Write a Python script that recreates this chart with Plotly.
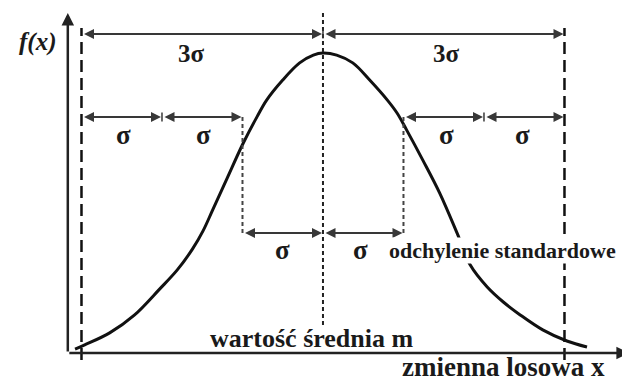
import plotly.graph_objects as go

# krzywa: x w jednostkach sigma (m = 0), f(x) względem maksimum
curve_x = [-3.08, -2.96, -2.65, -2.34, -2.03, -1.81, -1.62, -1.49, -1.37, -1.19, -0.99,
           -0.82, -0.70, -0.50, -0.29, -0.12, 0.0, 0.17, 0.37, 0.58, 0.80, 0.92, 1.04,
           1.24, 1.45, 1.67, 1.83, 2.04, 2.24, 2.45, 2.73, 3.03, 3.28]
curve_y = [0.013, 0.027, 0.067, 0.127, 0.213, 0.277, 0.347, 0.407, 0.477, 0.583, 0.700,
           0.787, 0.843, 0.910, 0.967, 0.993, 1.0, 0.993, 0.967, 0.910, 0.843, 0.800, 0.743,
           0.643, 0.533, 0.397, 0.293, 0.220, 0.170, 0.127, 0.077, 0.040, 0.020]

mean = 0
outer_lim = [-3, 3]
inner_lim = [-1, 1]

arrows_3s = [(-3, 0), (0, 3)]
arrows_1s = [(-3, -2), (-2, -1), (1, 2), (2, 3)]
arrows_in = [(-1, 0), (0, 1)]

labels_3s = [-1.63, 1.54]
labels_1s = [-2.48, -1.49, 1.54, 2.48]
labels_in = [-0.5, 0.46]

y_3s, y_1s, y_in = 1.063, 0.787, 0.40
X_RANGE = [-3.913, 3.814]
Y_RANGE = [-0.0933, 1.15]
y_axis_x = -3.17

ARROW = '#383838'
FONT = 'Liberation Serif, Times New Roman, DejaVu Serif, serif'

fig = go.Figure()
fig.add_trace(go.Scatter(x=curve_x, y=curve_y, mode='lines',
                         line=dict(color='#111111', width=3, shape='spline', smoothing=1.0),
                         hoverinfo='skip'))

shapes = []
# osie
annotations = [
    dict(x=3.80, y=0, ax=y_axis_x, ay=0),
    dict(x=y_axis_x, y=1.133, ax=y_axis_x, ay=0),
]
annotations = [dict(a, xref='x', yref='y', axref='x', ayref='y', text='', showarrow=True,
                    arrowhead=2, arrowsize=1, arrowwidth=2.5, arrowcolor='#222222',
                    standoff=0, startstandoff=0) for a in annotations]

# linie pionowe
for xv in outer_lim:
    shapes.append(dict(type='line', xref='x', yref='y', x0=xv, x1=xv, y0=-0.023, y1=1.083,
                       line=dict(color='#111111', width=2.5, dash='12px,6px')))
shapes.append(dict(type='line', xref='x', yref='y', x0=mean, x1=mean, y0=0.093, y1=1.137,
                   line=dict(color='#222222', width=2, dash='4px,3px')))
for xv in inner_lim:
    shapes.append(dict(type='line', xref='x', yref='y', x0=xv, x1=xv, y0=0.40, y1=0.787,
                       line=dict(color='#444444', width=2, dash='4px,3px')))
# małe znaczniki na końcach strzałek
for xv, yv in [(-2, y_1s), (2, y_1s), (0, y_3s)]:
    shapes.append(dict(type='line', xref='x', yref='y', x0=xv, x1=xv, y0=yv - 0.015, y1=yv + 0.015,
                       line=dict(color=ARROW, width=1.5)))

# strzałki dwustronne
for row, yv in [(arrows_3s, y_3s), (arrows_1s, y_1s), (arrows_in, y_in)]:
    for a, b in row:
        annotations.append(dict(x=b, y=yv, ax=a, ay=yv, xref='x', yref='y', axref='x', ayref='y',
                                text='', showarrow=True, arrowhead=2, startarrowhead=2,
                                arrowside='end+start', arrowsize=1, startarrowsize=1,
                                arrowwidth=2, arrowcolor=ARROW, standoff=1, startstandoff=1))


def label(x, y, text, size, **kw):
    d = dict(x=x, y=y, xref='x', yref='y', text=text, showarrow=False,
             font=dict(family=FONT, size=size, color='#1a1a1a'))
    d.update(kw)
    return d


for xv in labels_3s:
    annotations.append(label(xv, 1.0, '<b>3σ</b>', 25))
for xv in labels_1s:
    annotations.append(label(xv, 0.727, '<b>σ</b>', 27))
for xv in labels_in:
    annotations.append(label(xv, 0.343, '<b>σ</b>', 27))

annotations.append(label(0.81, 0.343, '<b>odchylenie standardowe</b>', 22, xanchor='left',
                         bgcolor='white', borderpad=0))
annotations.append(label(-0.14, 0.047, '<b>wartość średnia m</b>', 26))
annotations.append(label(2.24, 0, '<b>zmienna losowa x</b>', 27, yref='paper',
                         yanchor='bottom', yshift=-3))
annotations.append(label(-3.55, 1.037, '<b><i>f(x)</i></b>', 25))

fig.update_layout(
    width=622, height=373,
    margin=dict(l=0, r=0, t=0, b=0),
    paper_bgcolor='white', plot_bgcolor='white',
    showlegend=False,
    xaxis=dict(range=X_RANGE, visible=False, fixedrange=True),
    yaxis=dict(range=Y_RANGE, visible=False, fixedrange=True),
    shapes=shapes,
    annotations=annotations,
)

fig.write_html("out.html")
